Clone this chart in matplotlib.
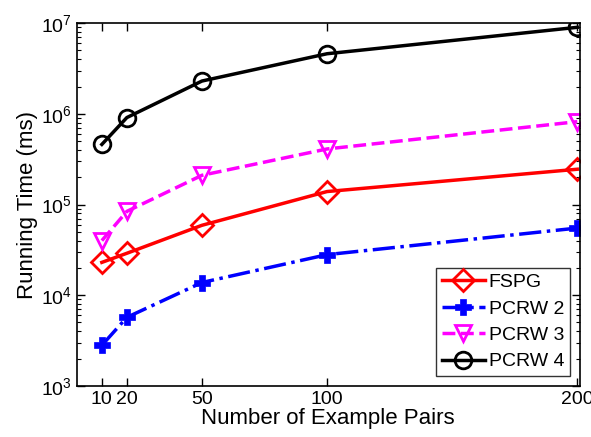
import math
import matplotlib
matplotlib.use("Agg")
import matplotlib.pyplot as plt
from matplotlib.ticker import FuncFormatter, LogLocator, NullFormatter

plt.rcParams['font.family'] = ['Liberation Sans', 'DejaVu Sans']

x = [10, 20, 50, 100, 200]
fspg = [2.3e4, 2.9e4, 5.9e4, 1.39e5, 2.45e5]
pcrw2 = [2.8e3, 5.7e3, 1.38e4, 2.8e4, 5.5e4]
pcrw3 = [4.0e4, 8.4e4, 2.1e5, 4.1e5, 8.2e5]
pcrw4 = [4.6e5, 9.1e5, 2.3e6, 4.6e6, 9.0e6]
xticks = [10, 20, 50, 100, 200]

fig = plt.figure(figsize=(5.91, 4.37), dpi=100)
ax = fig.add_axes([0.130, 0.117, 0.851, 0.830])

lw = 2.5
ms = 12
ax.plot(x, fspg, color='red', lw=lw, ls='-', marker='D', ms=ms - 1, mfc='none', mew=2, label='FSPG')
ax.plot(x, pcrw2, color='blue', lw=lw, ls='-.', marker='P', ms=ms, mfc='blue', mew=0.5, label='PCRW 2')
ax.plot(x, pcrw3, color='magenta', lw=lw, ls='--', marker='v', ms=ms, mfc='none', mew=2, label='PCRW 3')
ax.plot(x, pcrw4, color='black', lw=lw, ls='-', marker='o', ms=ms, mfc='none', mew=2, label='PCRW 4')

ax.set_yscale('log')
ax.set_ylim(1e3, 1e7)
ax.set_xlim(0, 201)
ax.set_xticks(xticks)
ax.set_xticklabels([str(v) for v in xticks])
ax.yaxis.set_major_locator(LogLocator(base=10, numticks=10))
ax.yaxis.set_minor_locator(LogLocator(base=10, subs=range(2, 10), numticks=50))
ax.yaxis.set_minor_formatter(NullFormatter())
ax.yaxis.set_major_formatter(FuncFormatter(lambda v, p: r'$\mathregular{10^{%d}}$' % round(math.log10(v))))

ax.tick_params(which='both', direction='in', top=True, right=True, labelsize=14)
ax.tick_params(which='major', length=6, width=1)
ax.tick_params(which='minor', length=3, width=0.8)
for s in ax.spines.values():
    s.set_linewidth(1.2)

ax.set_xlabel('Number of Example Pairs', fontsize=16, labelpad=0)
ax.set_ylabel('Running Time (ms)', fontsize=16, labelpad=2)

leg = ax.legend(loc='lower right', fontsize=14, frameon=True, fancybox=False,
                edgecolor='black', handlelength=2.2, borderpad=0.3, labelspacing=0.45,
                handletextpad=0.2, borderaxespad=0.5)
leg.get_frame().set_linewidth(1.0)

fig.savefig('out.png', dpi=100)
